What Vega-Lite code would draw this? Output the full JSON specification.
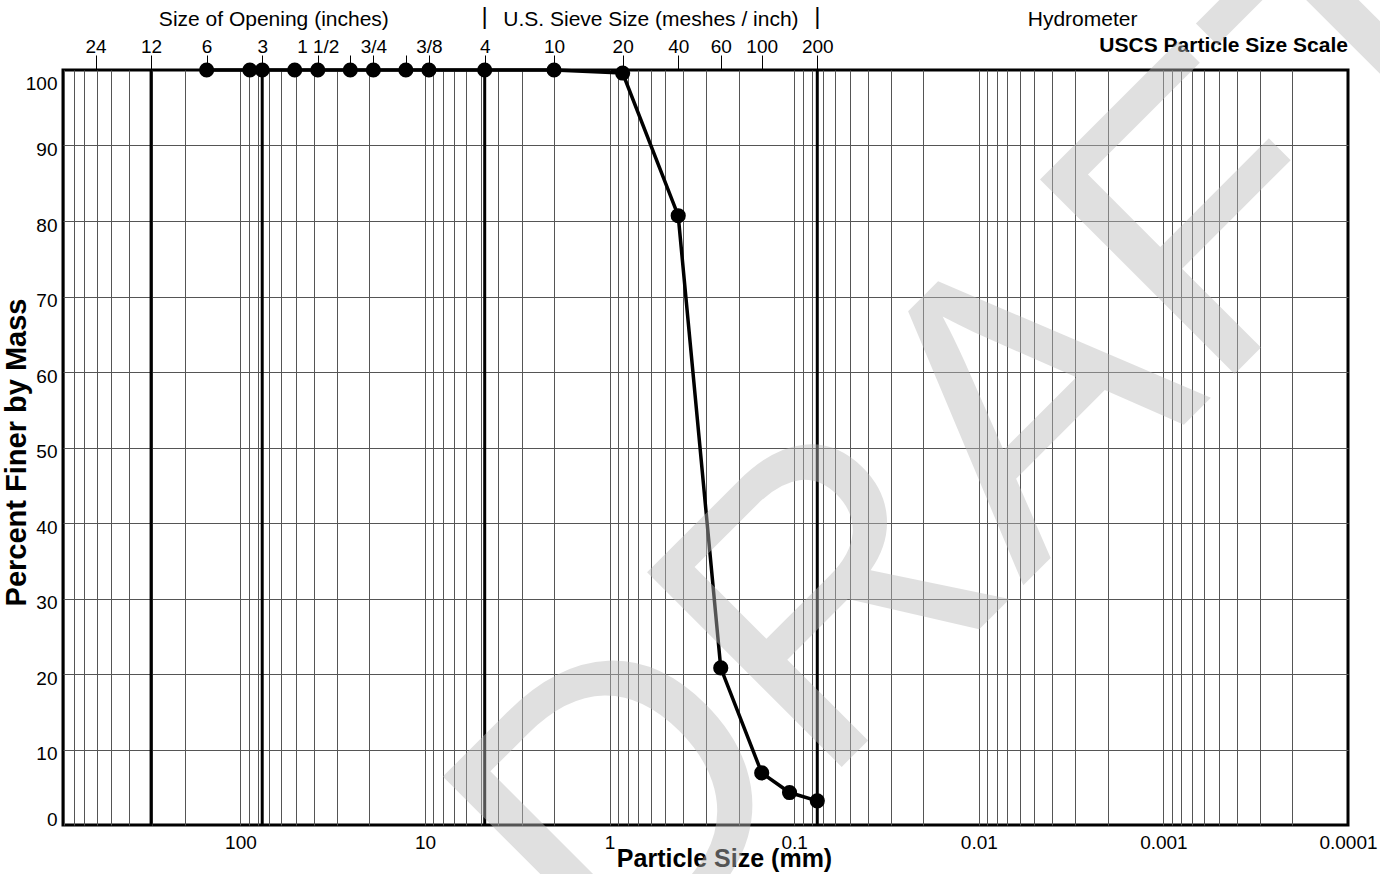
{
  "$schema": "https://vega.github.io/schema/vega-lite/v6.json",
  "width": 1285,
  "height": 755,
  "autosize": {"type": "none"},
  "padding": {"left": 63, "top": 70, "right": 32, "bottom": 49},
  "background": "white",
  "config": {
    "font": "Liberation Sans",
    "view": {"stroke": "black", "strokeWidth": 3},
    "axis": {"labelFont": "Liberation Sans", "titleFont": "Liberation Sans", "labelColor": "black", "titleColor": "black", "labelOverlap": false}
  },
  "datasets": {
    "grading": [
      {"mm": 152.4, "pct": 100}, {"mm": 88.9, "pct": 100}, {"mm": 76.2, "pct": 100},
      {"mm": 50.8, "pct": 100}, {"mm": 38.1, "pct": 100}, {"mm": 25.4, "pct": 100},
      {"mm": 19.05, "pct": 100}, {"mm": 12.7, "pct": 100}, {"mm": 9.525, "pct": 100},
      {"mm": 4.75, "pct": 100}, {"mm": 2.0, "pct": 100}, {"mm": 0.85, "pct": 99.6},
      {"mm": 0.425, "pct": 80.7}, {"mm": 0.25, "pct": 20.8}, {"mm": 0.15, "pct": 6.9},
      {"mm": 0.106, "pct": 4.3}, {"mm": 0.075, "pct": 3.2}
    ],
    "boundaries": [{"mm": 304.8}, {"mm": 76.2}, {"mm": 4.75}, {"mm": 0.075}],
    "headers": [
      {"mm": 65.9, "label": "Size of Opening (inches)"},
      {"mm": 0.597, "label": "U.S. Sieve Size (meshes / inch)"},
      {"mm": 0.00274, "label": "Hydrometer"}
    ],
    "pipes": [{"mm": 4.75, "label": "|"}, {"mm": 0.075, "label": "|"}],
    "scaletitle": [{"mm": 0.0001, "label": "USCS Particle Size Scale"}],
    "watermark": [{"mm": 0.00264, "pct": 40, "label": "DRAFT"}]
  },
  "resolve": {"axis": {"x": "independent", "y": "independent"}},
  "layer": [
    {
      "data": {"name": "boundaries"},
      "mark": {"type": "rule", "color": "black", "strokeWidth": 3},
      "encoding": {
        "x": {
          "field": "mm", "type": "quantitative",
          "scale": {"type": "log", "domain": [0.0001, 914.4], "reverse": true, "nice": false},
          "axis": {
            "orient": "top",
            "values": [609.6, 304.8, 152.4, 76.2, 38.1, 25.4, 19.05, 12.7, 9.525, 4.75, 2, 0.85, 0.425, 0.25, 0.15, 0.075],
            "labelExpr": "indexof([609.6,304.8,152.4,76.2,38.1,19.05,9.525,4.75,2,0.85,0.425,0.25,0.15,0.075], datum.value) >= 0 ? ['24','12','6','3','1 1/2','3/4','3/8','4','10','20','40','60','100','200'][indexof([609.6,304.8,152.4,76.2,38.1,19.05,9.525,4.75,2,0.85,0.425,0.25,0.15,0.075], datum.value)] : ''",
            "grid": false, "domain": false, "ticks": true, "tickSize": 15, "tickColor": "black", "tickWidth": 1,
            "labelFontSize": 19, "labelPadding": 3, "labelBaseline": "alphabetic", "labelOverlap": false, "labelFlush": false,
            "title": null
          }
        }
      }
    },
    {
      "data": {"name": "grading"},
      "mark": {"type": "line", "color": "black", "strokeWidth": 3.5},
      "encoding": {
        "x": {
          "field": "mm", "type": "quantitative",
          "scale": {"type": "log", "domain": [0.0001, 914.4], "reverse": true, "nice": false},
          "axis": {
            "orient": "bottom",
            "values": [0.0001, 0.0002, 0.0003, 0.0004, 0.0005, 0.0006, 0.0007, 0.0008, 0.0009,
                       0.001, 0.002, 0.003, 0.004, 0.005, 0.006, 0.007, 0.008, 0.009,
                       0.01, 0.02, 0.03, 0.04, 0.05, 0.06, 0.07, 0.08, 0.09,
                       0.1, 0.2, 0.3, 0.4, 0.5, 0.6, 0.7, 0.8, 0.9,
                       1, 2, 3, 4, 5, 6, 7, 8, 9,
                       10, 20, 30, 40, 50, 60, 70, 80, 90,
                       100, 200, 300, 400, 500, 600, 700, 800, 900],
            "labelExpr": "indexof([100,10,1,0.1,0.01,0.001,0.0001], datum.value) >= 0 ? format(datum.value, '~g') : ''",
            "grid": true,
            "gridColor": {"condition": {"test": "datum.value == 0.0001", "value": "transparent"}, "value": "#555555"},
            "gridWidth": 1,
            "ticks": false, "tickSize": 0, "domain": false,
            "labelFontSize": 19, "labelPadding": 8, "labelOverlap": false, "labelFlush": false,
            "title": "Particle Size (mm)", "titleFontSize": 25, "titleFontWeight": "bold",
            "titleX": 661, "titleY": 41, "titleBaseline": "alphabetic", "titleAlign": "center"
          }
        },
        "y": {
          "field": "pct", "type": "quantitative",
          "scale": {"domain": [0, 100], "nice": false, "zero": true},
          "axis": {
            "orient": "left",
            "values": [0, 10, 20, 30, 40, 50, 60, 70, 80, 90, 100],
            "grid": true,
            "gridColor": {"condition": {"test": "datum.value == 0 || datum.value == 100", "value": "transparent"}, "value": "#555555"},
            "gridWidth": 1,
            "ticks": false, "tickSize": 0, "domain": false,
            "labelFontSize": 19, "labelPadding": 6, "labelFlush": true, "labelOffset": 4, "labelOverlap": false,
            "title": "Percent Finer by Mass", "titleFontSize": 29, "titleFontWeight": "bold",
            "titleX": -38, "titleY": 382, "titleAngle": -90, "titleBaseline": "alphabetic", "titleAlign": "center"
          }
        }
      }
    },
    {
      "data": {"name": "grading"},
      "mark": {"type": "point", "filled": true, "shape": "circle", "size": 230, "color": "black", "opacity": 1},
      "encoding": {
        "x": {"field": "mm", "type": "quantitative", "scale": {"type": "log", "domain": [0.0001, 914.4], "reverse": true, "nice": false}, "axis": null},
        "y": {"field": "pct", "type": "quantitative", "axis": null}
      }
    },
    {
      "data": {"name": "headers"},
      "mark": {"type": "text", "fontSize": 21, "align": "center", "baseline": "alphabetic", "dy": -44.5, "color": "black"},
      "encoding": {
        "x": {"field": "mm", "type": "quantitative", "scale": {"type": "log", "domain": [0.0001, 914.4], "reverse": true, "nice": false}, "axis": null},
        "y": {"datum": 100, "type": "quantitative", "axis": null},
        "text": {"field": "label"}
      }
    },
    {
      "data": {"name": "pipes"},
      "mark": {"type": "text", "fontSize": 24, "align": "center", "baseline": "alphabetic", "dy": -46, "color": "black"},
      "encoding": {
        "x": {"field": "mm", "type": "quantitative", "scale": {"type": "log", "domain": [0.0001, 914.4], "reverse": true, "nice": false}, "axis": null},
        "y": {"datum": 100, "type": "quantitative", "axis": null},
        "text": {"field": "label"}
      }
    },
    {
      "data": {"name": "scaletitle"},
      "mark": {"type": "text", "fontSize": 21, "fontWeight": "bold", "align": "right", "baseline": "alphabetic", "dy": -18.3, "color": "black"},
      "encoding": {
        "x": {"field": "mm", "type": "quantitative", "scale": {"type": "log", "domain": [0.0001, 914.4], "reverse": true, "nice": false}, "axis": null},
        "y": {"datum": 100, "type": "quantitative", "axis": null},
        "text": {"field": "label"}
      }
    },
    {
      "data": {"name": "watermark"},
      "mark": {"type": "text", "fontSize": 400, "angle": -45, "align": "center", "baseline": "alphabetic", "color": "#bbbbbb", "opacity": 0.45},
      "encoding": {
        "x": {"field": "mm", "type": "quantitative", "scale": {"type": "log", "domain": [0.0001, 914.4], "reverse": true, "nice": false}, "axis": null},
        "y": {"field": "pct", "type": "quantitative", "axis": null},
        "text": {"field": "label"}
      }
    }
  ]
}
